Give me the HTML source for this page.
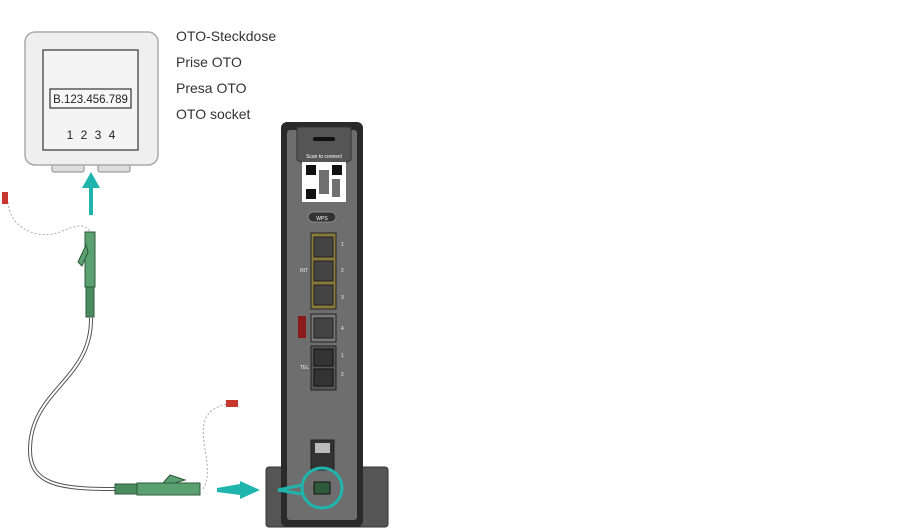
<!DOCTYPE html>
<html><head><style>body{margin:0;background:#fff}svg{display:block}</style></head><body>
<svg width="900" height="530" viewBox="0 0 900 530" xmlns="http://www.w3.org/2000/svg" font-family="Liberation Sans, sans-serif">
<!-- socket -->
<rect x="52" y="162" width="32" height="10" rx="2" fill="#ddd" stroke="#888"/>
<rect x="98" y="162" width="32" height="10" rx="2" fill="#ddd" stroke="#888"/>
<rect x="25" y="32" width="133" height="133" rx="10" fill="#efefef" stroke="#aaa" stroke-width="1.5"/>
<rect x="43" y="50" width="95" height="100" fill="#f4f4f4" stroke="#333" stroke-width="1.2"/>
<rect x="50" y="89" width="81" height="19" fill="#f7f7f7" stroke="#333" stroke-width="1.2"/>
<text x="90.5" y="103" font-size="11.5" text-anchor="middle" fill="#222">B.123.456.789</text>
<text x="91" y="139" font-size="12" text-anchor="middle" fill="#222" word-spacing="4">1 2 3 4</text>
<g font-size="14" fill="#333"><text x="176" y="41">OTO-Steckdose</text><text x="176" y="67">Prise OTO</text><text x="176" y="93">Presa OTO</text><text x="176" y="119">OTO socket</text></g>
<!-- arrow up -->
<path d="M89 215 V188 H82 L91 172 L100 188 H93 V215 Z" fill="#1fb5ac"/>
<!-- dotted lines and caps -->
<path d="M8 202 C10 230 40 240 60 232 C75 226 85 222 90 232" fill="none" stroke="#aaa" stroke-dasharray="2 2"/>
<rect x="2" y="192" width="6" height="12" fill="#c8372d"/>
<path d="M203 489 C215 470 198 440 205 420 C208 410 220 405 228 404" fill="none" stroke="#aaa" stroke-dasharray="2 2"/>
<rect x="226" y="400" width="12" height="7" fill="#c8372d"/>
<!-- cable -->
<path d="M91 318 C92 380 30 390 30 450 C30 485 60 489 115 489" fill="none" stroke="#555" stroke-width="4"/>
<path d="M91 318 C92 380 30 390 30 450 C30 485 60 489 115 489" fill="none" stroke="#fff" stroke-width="2"/>
<!-- top connector -->
<rect x="85" y="232" width="10" height="55" fill="#5aa070" stroke="#2d5a3a"/>
<rect x="86" y="287" width="8" height="30" fill="#4a8c5e" stroke="#2d5a3a"/>
<path d="M86 245 L78 262 L82 266 L88 252 Z" fill="#5aa070" stroke="#2d5a3a"/>
<!-- bottom connector -->
<rect x="115" y="484" width="22" height="10" fill="#4a8c5e" stroke="#2d5a3a"/>
<rect x="137" y="483" width="63" height="12" fill="#5aa070" stroke="#2d5a3a"/>
<path d="M163 483 L170 475 L185 480 L175 483 Z" fill="#5aa070" stroke="#2d5a3a"/>
<!-- arrow right -->
<path d="M217 488 L240 484 L240 481 L260 490 L240 499 L240 495 L217 492 Z" fill="#1fb5ac"/>
<!-- router stand -->
<rect x="266" y="467" width="122" height="60" rx="3" fill="#555" stroke="#333"/>
<rect x="281" y="122" width="82" height="405" rx="6" fill="#2a2a2a"/>
<rect x="287" y="130" width="70" height="390" rx="3" fill="#6e6e6e"/>
<path d="M297 127 H351 V160 L343 164 H305 L297 160 Z" fill="#555" stroke="#333"/>
<rect x="313" y="137" width="22" height="4" rx="2" fill="#111"/>
<text x="324" y="158" font-size="5" fill="#fff" text-anchor="middle">Scan to connect</text>
<rect x="302" y="162" width="44" height="40" fill="#fff"/>
<g fill="#111"><rect x="306" y="165" width="10" height="10"/><rect x="332" y="165" width="10" height="10"/><rect x="306" y="189" width="10" height="10"/><rect x="319" y="170" width="10" height="24" opacity="0.6"/><rect x="332" y="179" width="8" height="18" opacity="0.6"/></g>
<rect x="308" y="212" width="28" height="10" rx="5" fill="#333" stroke="#888"/>
<text x="322" y="220" font-size="5" fill="#fff" text-anchor="middle">WPS</text>
<rect x="311" y="233" width="25" height="76" fill="#8a7a3a" stroke="#222"/>
<g fill="#444" stroke="#222"><rect x="314" y="237" width="19" height="20"/><rect x="314" y="261" width="19" height="20"/><rect x="314" y="285" width="19" height="20"/></g>
<rect x="311" y="314" width="25" height="28" fill="#777" stroke="#222"/>
<rect x="314" y="318" width="19" height="20" fill="#444" stroke="#222"/>
<rect x="298" y="316" width="8" height="22" fill="#8b1a1a"/>
<rect x="311" y="346" width="25" height="44" fill="#555" stroke="#222"/>
<g fill="#333" stroke="#111"><rect x="314" y="349" width="19" height="17"/><rect x="314" y="369" width="19" height="17"/></g>
<g font-size="5" fill="#eee"><text x="341" y="246">1</text><text x="341" y="272">2</text><text x="341" y="299">3</text><text x="341" y="330">4</text><text x="341" y="357">1</text><text x="341" y="376">2</text><text x="300" y="272">INT</text><text x="300" y="369">TEL</text></g>
<rect x="311" y="440" width="23" height="30" fill="#333" stroke="#222"/>
<rect x="315" y="443" width="15" height="10" fill="#bbb"/>
<rect x="314" y="482" width="16" height="12" fill="#2f5a3a" stroke="#111"/>
<circle cx="322" cy="488" r="20" fill="none" stroke="#1fb5ac" stroke-width="3"/>
<path d="M302 485 L278 490 L302 494" fill="none" stroke="#1fb5ac" stroke-width="3"/>
</svg>
</body></html>
